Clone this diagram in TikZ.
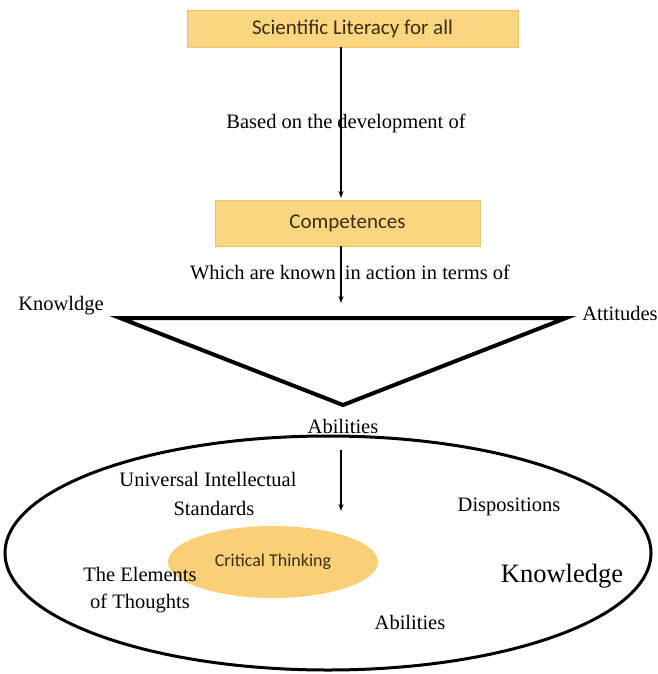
\documentclass[tikz,border=0pt]{standalone}
\usepackage{fontspec}
\setmainfont{Liberation Serif}
\newfontfamily\boxfont{Carlito}
\usetikzlibrary{shapes.geometric,arrows.meta}
\definecolor{boxfill}{RGB}{251,214,128}
\definecolor{boxline}{RGB}{240,196,100}
\definecolor{ctfill}{RGB}{249,208,120}
\definecolor{boxtext}{RGB}{60,45,20}
\tikzset{
  orbox/.style={draw=boxline, line width=0.8pt, fill=boxfill, inner sep=0pt, font=\boxfont\fontsize{21}{24}\selectfont, text=boxtext},
  lbl/.style={font=\fontsize{20.5}{24}\selectfont, inner sep=0pt, align=center},
  arr/.style={-{Stealth[length=7pt,width=5pt]}, line width=1.2pt},
}
\begin{document}
\begin{tikzpicture}[x=1pt,y=-1pt]
\useasboundingbox (0,0) rectangle (657,674);
% boxes
\node[orbox, minimum width=331pt, minimum height=37pt] (sl) at (352.5,28.5) {Scientific Literacy for all};
\node[orbox, minimum width=265pt, minimum height=46pt] (comp) at (347.5,223) {Competences};
% arrow 1
\coordinate (a1s) at (341,47);
\coordinate (a1e) at (341,198);
\draw[arr] (a1s) -- (a1e);
\node[lbl] (based) at (346,123) {Based on the development of};
% arrow 2
\coordinate (a2s) at (341,246);
\coordinate (a2e) at (341,303);
\draw[arr] (a2s) -- (a2e);
\node[lbl] (which) at (350,272) {Which are known\hspace{4pt} in action in terms of};
% triangle
\coordinate (tl) at (120,318);
\coordinate (tr) at (566,318);
\coordinate (tb) at (343,405);
\draw[line width=4pt, line join=miter] (tl) -- (tr) -- (tb) -- cycle;
\node[lbl] (kn1) at (61,306) {Knowldge};
\node[lbl] (att) at (620,313) {Attitudes};
\node[lbl] (ab1) at (343,426) {Abilities};
% big ellipse
\node[ellipse, draw, line width=3pt, minimum width=646pt, minimum height=234pt, inner sep=0pt] (big) at (328,553) {};
% inner ellipse
\node[ellipse, fill=ctfill, minimum width=210pt, minimum height=72pt, inner sep=0pt, font=\boxfont\fontsize{18}{21}\selectfont, text=boxtext] (ct) at (273,562) {\raisebox{4pt}{Critical Thinking}};
% arrow 3
\coordinate (a3s) at (341,450);
\coordinate (a3e) at (341,511);
\draw[arr] (a3s) -- (a3e);
% labels inside
\node[lbl, font=\fontsize{20.5}{29}\selectfont] (uis) at (208,494) {Universal Intellectual\\\hspace{12pt}Standards};
\node[lbl] (disp) at (509,507) {Dispositions};
\node[lbl, font=\fontsize{20.5}{27}\selectfont] (elem) at (140,590) {The Elements\\of Thoughts};
\node[lbl, font=\fontsize{26.5}{30}\selectfont] (kn2) at (562,576) {Knowledge};
\node[lbl] (ab2) at (410,622) {Abilities};
\end{tikzpicture}
\end{document}
